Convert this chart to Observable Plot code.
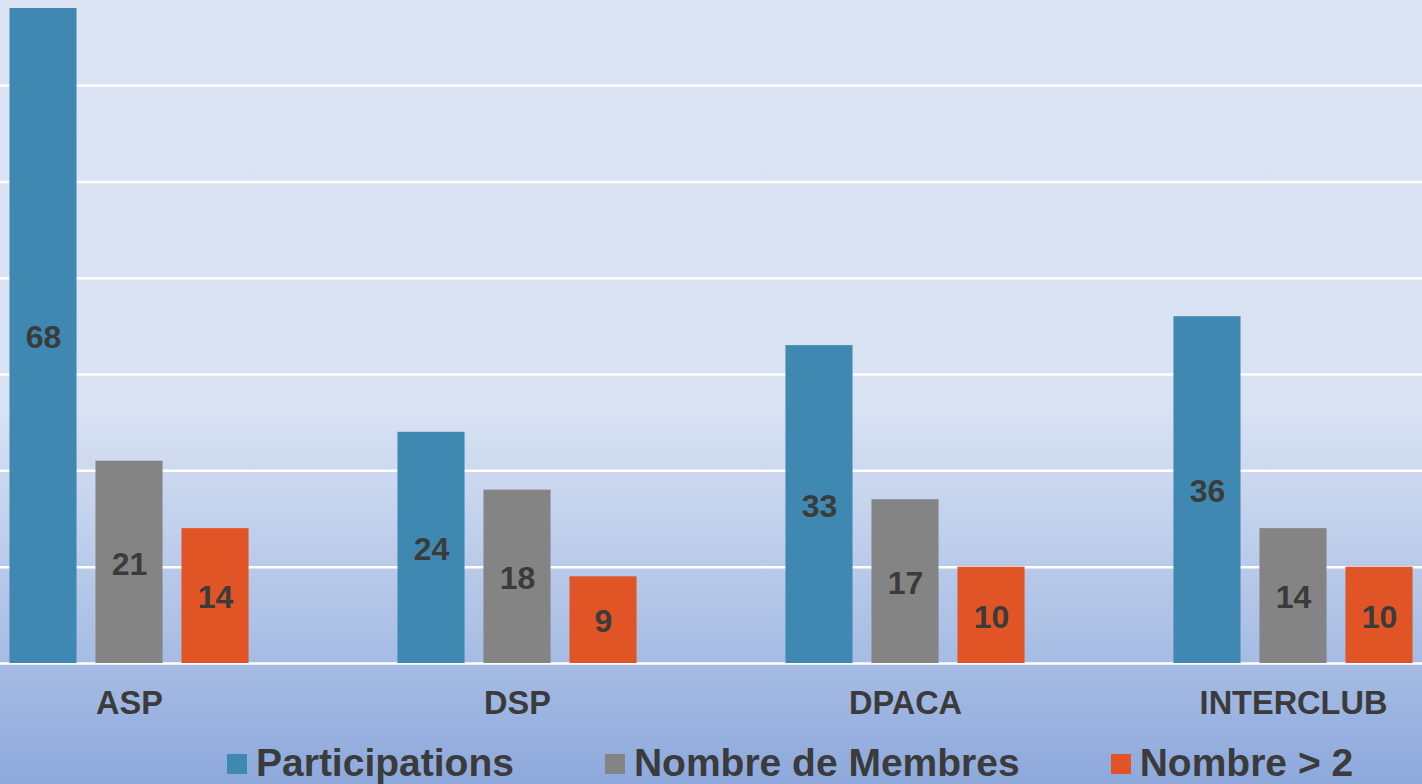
<!DOCTYPE html>
<html>
<head>
<meta charset="utf-8">
<script src="https://cdn.jsdelivr.net/npm/d3@7"></script>
<script src="https://cdn.jsdelivr.net/npm/@observablehq/plot@0.6"></script>
<style>
  html, body { margin: 0; padding: 0; }
  body { width: 1422px; height: 784px; overflow: hidden; }
  #wrap {
    width: 1422px; height: 784px; position: relative;
    background: linear-gradient(to bottom, #dce4f4 0%, #d9e2f3 52%, #8da9dc 100%);
    font-family: "Liberation Sans", Arial, sans-serif;
  }
  #grid, #chart { position: absolute; left: 0; top: 0; }
  #legend {
    position: absolute; left: 227px; top: 743px; height: 38px;
    display: flex; align-items: center;
    font-size: 39px; font-weight: bold; color: #3b3b3b; line-height: 1;
  }
  .item { display: flex; align-items: center; margin-right: 91px; white-space: nowrap; }
  .sw { width: 20px; height: 20px; margin-right: 9px; margin-top: 3px; }
</style>
</head>
<body>
<div id="wrap">
  <div id="grid"></div>
  <div id="chart"></div>
  <div id="legend"></div>
</div>
<script>
const categories = ["ASP", "DSP", "DPACA", "INTERCLUB"];
const series = ["Participations", "Nombre de Membres", "Nombre > 2"];
const participations = [68, 24, 33, 36];
const membres = [21, 18, 17, 14];
const nombreSup2 = [14, 9, 10, 10];
const colors = ["#3f88b2", "#848484", "#e05426"];
const gridValues = [0, 10, 20, 30, 40, 50, 60];

const seriesValues = [participations, membres, nombreSup2];
const table = [];
categories.forEach((c, i) => {
  series.forEach((s, j) => {
    table.push({category: c, series: s, value: seriesValues[j][i]});
  });
});

const common = {
  width: 1422,
  height: 730,
  marginTop: 8,
  marginBottom: 67,
  marginLeft: 0,
  marginRight: 0,
  style: {background: "transparent", fontFamily: "'Liberation Sans', Arial, sans-serif", overflow: "visible"},
  y: {domain: [0, 68], axis: null}
};

// Horizontal gridlines spanning the full width (drawn underneath)
const grid = Plot.plot({
  ...common,
  marks: [
    Plot.ruleY(gridValues, {stroke: "white", strokeWidth: 2.5})
  ]
});
document.getElementById("grid").appendChild(grid);

// Grouped bars
const chart = Plot.plot({
  ...common,
  fx: {domain: categories, paddingInner: 0.335, paddingOuter: 0, round: false, label: null},
  x: {domain: series, paddingInner: 0.22, paddingOuter: 0.11, round: false, axis: null},
  color: {domain: series, range: colors},
  marks: [
    Plot.barY(table, {fx: "category", x: "series", y: "value", fill: "series"}),
    Plot.text(table, {fx: "category", x: "series", y: d => d.value / 2, text: "value",
      fontSize: 32, fontWeight: "bold", fill: "#3b3b3b", dy: 2}),
    Plot.axisFx({anchor: "bottom", tickSize: 0, tickPadding: 27, fontSize: 32.5,
      fontWeight: "bold", fill: "#3b3b3b", label: null})
  ]
});
document.getElementById("chart").appendChild(chart);

const legend = document.getElementById("legend");
series.forEach((s, j) => {
  const item = document.createElement("div");
  item.className = "item";
  const sw = document.createElement("div");
  sw.className = "sw";
  sw.style.background = colors[j];
  const label = document.createElement("span");
  label.textContent = s;
  item.appendChild(sw);
  item.appendChild(label);
  legend.appendChild(item);
});
</script>
</body>
</html>
